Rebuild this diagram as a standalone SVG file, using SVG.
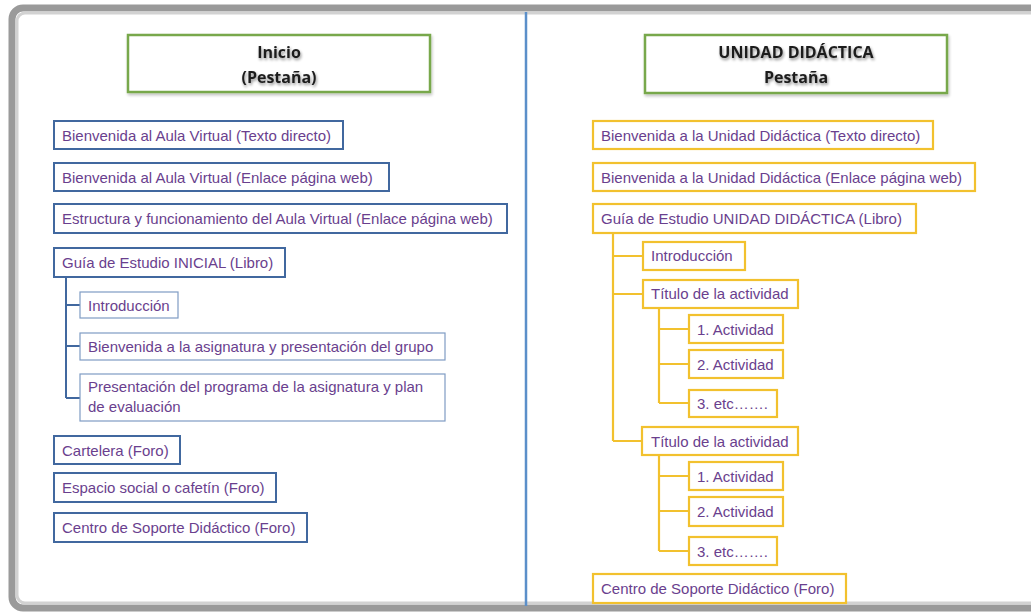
<svg xmlns="http://www.w3.org/2000/svg" width="1031" height="613" viewBox="0 0 1031 613">
<defs>
<filter id="sh" x="-10%" y="-20%" width="120%" height="150%">
<feGaussianBlur in="SourceAlpha" stdDeviation="1.5"/>
<feOffset dx="1" dy="2" result="b"/>
<feComponentTransfer><feFuncA type="linear" slope="0.25"/></feComponentTransfer>
<feMerge><feMergeNode/><feMergeNode in="SourceGraphic"/></feMerge>
</filter>
<filter id="tsh" x="-10%" y="-30%" width="120%" height="160%">
<feGaussianBlur in="SourceAlpha" stdDeviation="1.5"/>
<feOffset dx="1" dy="1.5"/>
<feComponentTransfer><feFuncA type="linear" slope="0.45"/></feComponentTransfer>
<feMerge><feMergeNode/><feMergeNode in="SourceGraphic"/></feMerge>
</filter>
</defs>
<style>
.t{font-family:"Liberation Sans",Arial,sans-serif;font-size:15px;fill:#6a3f8e}
.h{font-family:"Open Sans","Liberation Sans",sans-serif;font-size:16px;font-weight:bold;fill:#1c1c1c;text-anchor:middle}
.g{fill:#fff;stroke:#78a84c;stroke-width:2.5}
.b{fill:#fff;stroke:#41689f;stroke-width:2}
.bs{fill:#fff;stroke:#7f9cc4;stroke-width:1.2}
.y{fill:#fff;stroke:#f2c12e;stroke-width:2.2}
.cb{fill:none;stroke:#41689f;stroke-width:2}
.cy{fill:none;stroke:#f2c12e;stroke-width:2.2}
</style>
<rect width="1031" height="613" fill="#fff"/>
<g id="frame">
<rect x="12" y="8" width="1040" height="600" rx="11" fill="none" stroke="#9a9a9a" stroke-width="7"/>
<rect x="17" y="13" width="1030" height="590" rx="8" fill="none" stroke="#d2d2d2" stroke-width="3"/>
<line x1="526" y1="12" x2="526" y2="606" stroke="#5b8fc9" stroke-width="2.5"/>
</g>
<g id="connectors">
<path class="cb" d="M66 277 V398 M66 305 H80 M66 346 H80 M66 398 H80"/>
<path class="cy" d="M613 233 V441 M613 256 H643 M613 294 H643 M613 441 H642"/>
<path class="cy" d="M659 308 V403 M659 329 H689 M659 364 H689 M659 403 H689"/>
<path class="cy" d="M659 455 V551 M659 476 H689 M659 511 H689 M659 551 H689"/>
</g>
<g id="n-inicio" filter="url(#sh)"><rect class="g" x="128" y="35" width="302" height="57"/></g>
<g filter="url(#tsh)"><text class="h" x="279" y="58">Inicio</text><text class="h" x="279" y="83">(Pestaña)</text></g>
<g id="n-b1"><rect class="b" x="54" y="121" width="289" height="28"/><text class="t" x="62" y="140.5">Bienvenida al Aula Virtual (Texto directo)</text></g>
<g id="n-b2"><rect class="b" x="54" y="163" width="335" height="28"/><text class="t" x="62" y="182.5">Bienvenida al Aula Virtual (Enlace página web)</text></g>
<g id="n-b3"><rect class="b" x="54" y="204" width="453" height="29"/><text class="t" x="62" y="224">Estructura y funcionamiento del Aula Virtual (Enlace página web)</text></g>
<g id="n-b4"><rect class="b" x="54" y="248" width="231" height="29"/><text class="t" x="62" y="268">Guía de Estudio INICIAL (Libro)</text></g>
<g id="n-s1"><rect class="bs" x="80" y="292" width="98" height="26"/><text class="t" x="88" y="310.5">Introducción</text></g>
<g id="n-s2"><rect class="bs" x="80" y="333" width="365" height="27"/><text class="t" x="88" y="352">Bienvenida a la asignatura y presentación del grupo</text></g>
<g id="n-s3"><rect class="bs" x="80" y="374" width="365" height="47"/><text class="t" x="88" y="392">Presentación del programa de la asignatura y plan</text><text class="t" x="88" y="412">de evaluación</text></g>
<g id="n-b5"><rect class="b" x="54" y="436" width="126" height="28"/><text class="t" x="62" y="455.5">Cartelera (Foro)</text></g>
<g id="n-b6"><rect class="b" x="54" y="473" width="222" height="29"/><text class="t" x="62" y="493">Espacio social o cafetín (Foro)</text></g>
<g id="n-b7"><rect class="b" x="54" y="513" width="253" height="29"/><text class="t" x="62" y="533">Centro de Soporte Didáctico (Foro)</text></g>
<g id="n-unidad" filter="url(#sh)"><rect class="g" x="645" y="35" width="302" height="58"/></g>
<g filter="url(#tsh)"><text class="h" x="796" y="58">UNIDAD DIDÁCTICA</text><text class="h" x="796" y="83">Pestaña</text></g>
<g id="n-y1"><rect class="y" x="593" y="121" width="340" height="28"/><text class="t" x="601" y="140.5">Bienvenida a la Unidad Didáctica (Texto directo)</text></g>
<g id="n-y2"><rect class="y" x="593" y="163" width="382" height="28"/><text class="t" x="601" y="182.5">Bienvenida a la Unidad Didáctica (Enlace página web)</text></g>
<g id="n-y3"><rect class="y" x="593" y="204" width="323" height="29"/><text class="t" x="601" y="224">Guía de Estudio UNIDAD DIDÁCTICA (Libro)</text></g>
<g id="n-y4"><rect class="y" x="643" y="242" width="102" height="28"/><text class="t" x="651" y="261">Introducción</text></g>
<g id="n-y5"><rect class="y" x="643" y="280" width="155" height="28"/><text class="t" x="651" y="299">Título de la actividad</text></g>
<g id="n-y6"><rect class="y" x="689" y="315" width="94" height="28"/><text class="t" x="697" y="334.5">1. Actividad</text></g>
<g id="n-y7"><rect class="y" x="689" y="350" width="94" height="28"/><text class="t" x="697" y="369.5">2. Actividad</text></g>
<g id="n-y8"><rect class="y" x="689" y="390" width="88" height="27"/><text class="t" x="697" y="409">3. etc…….</text></g>
<g id="n-y9"><rect class="y" x="642" y="427" width="156" height="28"/><text class="t" x="651" y="446.5">Título de la actividad</text></g>
<g id="n-y10"><rect class="y" x="689" y="462" width="94" height="28"/><text class="t" x="697" y="481.5">1. Actividad</text></g>
<g id="n-y11"><rect class="y" x="689" y="497" width="94" height="29"/><text class="t" x="697" y="517">2. Actividad</text></g>
<g id="n-y12"><rect class="y" x="689" y="537" width="88" height="28"/><text class="t" x="697" y="556.5">3. etc…….</text></g>
<g id="n-y13"><rect class="y" x="593" y="574" width="253" height="29"/><text class="t" x="601" y="594">Centro de Soporte Didáctico (Foro)</text></g>
</svg>
